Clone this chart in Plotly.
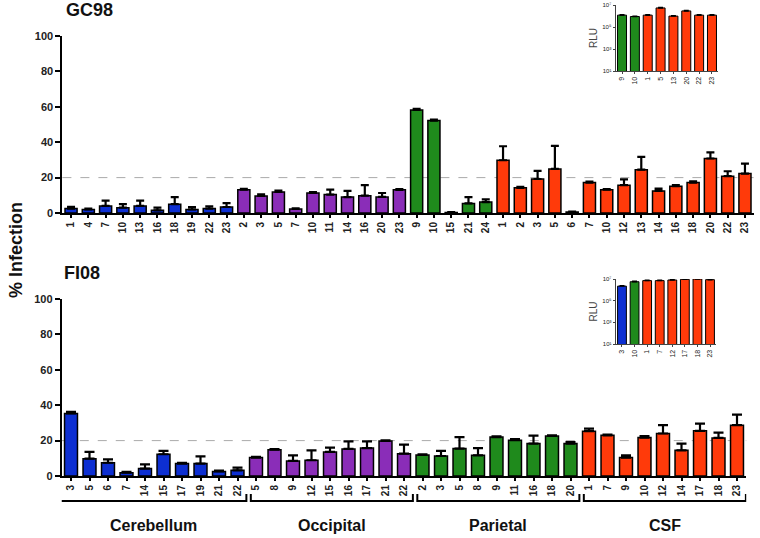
import plotly.graph_objects as go

# ---- GC98 (top panel), % infection, mean and upper SEM ----
gc_cer_lab = ["1", "4", "7", "10", "13", "16", "18", "19", "22", "23"]
gc_cer_val = [2.5, 2.0, 4.0, 3.0, 4.0, 1.5, 5.0, 2.0, 2.5, 3.4]
gc_cer_err = [1.0, 0.5, 3.0, 2.0, 3.0, 1.5, 4.0, 1.4, 1.3, 2.2]

gc_occ_lab = ["2", "3", "5", "7", "10", "11", "14", "16", "20", "23"]
gc_occ_val = [13.2, 9.6, 11.9, 2.3, 11.3, 10.4, 9.0, 9.8, 9.1, 13.1]
gc_occ_err = [0.5, 0.9, 0.7, 0.3, 0.5, 2.8, 3.5, 6.0, 2.2, 0.4]

gc_par_lab = ["9", "10", "15", "21", "24"]
gc_par_val = [58.2, 52.2, 0.3, 5.4, 6.2]
gc_par_err = [0.6, 0.6, 0.2, 3.6, 1.5]

gc_csf_lab = ["1", "2", "3", "5", "6", "7", "10", "12", "13", "14", "16", "18", "20", "22", "23"]
gc_csf_val = [29.8, 14.2, 19.2, 24.9, 0.5, 17.2, 13.2, 15.7, 24.5, 12.5, 15.1, 17.2, 30.8, 20.8, 22.3]
gc_csf_err = [7.9, 0.6, 4.6, 13.0, 0.3, 0.5, 0.3, 3.3, 7.2, 1.3, 0.7, 0.7, 3.4, 2.8, 5.6]

# ---- FI08 (bottom panel) ----
fi_cer_lab = ["3", "5", "6", "7", "14", "15", "17", "19", "21", "22"]
fi_cer_val = [35.3, 9.8, 7.5, 1.9, 4.2, 12.3, 7.0, 7.0, 2.6, 3.2]
fi_cer_err = [1.0, 3.8, 1.9, 0.5, 2.4, 1.9, 0.5, 4.1, 0.5, 1.5]

fi_occ_lab = ["5", "8", "9", "12", "15", "16", "17", "21", "22"]
fi_occ_val = [10.4, 14.9, 8.5, 8.9, 13.6, 15.3, 15.8, 19.8, 12.6]
fi_occ_err = [0.4, 0.3, 3.2, 5.6, 2.4, 4.3, 3.8, 0.4, 5.1]

fi_par_lab = ["2", "3", "5", "8", "9", "11", "16", "18", "20"]
fi_par_val = [11.9, 11.3, 15.5, 11.7, 22.0, 20.2, 18.3, 22.6, 18.3]
fi_par_err = [0.3, 2.9, 6.5, 4.1, 0.4, 0.7, 4.5, 0.3, 0.9]

fi_csf_lab = ["1", "7", "9", "10", "12", "14", "17", "18", "23"]
fi_csf_val = [25.3, 23.0, 10.4, 21.7, 24.0, 14.5, 25.5, 21.5, 28.7]
fi_csf_err = [1.5, 0.4, 1.3, 0.9, 4.7, 3.8, 4.1, 3.0, 6.0]

# ---- RLU insets ----
gc_rlu_lab = ["9", "10", "1", "5", "13", "20", "22", "23"]
gc_rlu_grp = ["Parietal", "Parietal", "CSF", "CSF", "CSF", "CSF", "CSF", "CSF"]
gc_rlu_val = [1.2e6, 9.0e5, 1.2e6, 5.4e6, 9.8e5, 2.9e6, 1.2e6, 1.2e6]

fi_rlu_lab = ["3", "10", "1", "7", "12", "17", "18", "23"]
fi_rlu_grp = ["Cerebellum", "Parietal", "CSF", "CSF", "CSF", "CSF", "CSF", "CSF"]
fi_rlu_val = [2.2e6, 5.6e6, 7.1e6, 7.1e6, 8.1e6, 9.3e6, 1.0e7, 8.7e6]

rlu_ticks = [1e1, 1e3, 1e5, 1e7]
rlu_tick_text = ["10¹", "10³", "10⁵", "10⁷"]

regions = ["Cerebellum", "Occipital", "Parietal", "CSF"]
COLORS = {"Cerebellum": "#0d2fd2", "Occipital": "#8a2db8", "Parietal": "#1f8a1c", "CSF": "#ff3a0a"}
FONT = "Arial, Liberation Sans, sans-serif"
W, H = 760, 538


def px(x):
    return x / W


def py(y):
    return 1 - y / H


fig = go.Figure()


def add_panel(groups, xa, ya, capw):
    pos = 0
    tickvals, ticktext, spans = [], [], []
    for name, labels, vals, errs in groups:
        xs = list(range(pos, pos + len(labels)))
        fig.add_trace(go.Bar(
            x=xs, y=vals, xaxis=xa, yaxis=ya, width=0.7, showlegend=False,
            marker=dict(color=COLORS[name], line=dict(color="black", width=1.5)),
            error_y=dict(type="data", symmetric=False, array=errs, arrayminus=[0] * len(errs),
                         color="black", thickness=2.2, width=capw),
        ))
        tickvals += xs
        ticktext += labels
        spans.append((xs[0], xs[-1]))
        pos += len(labels)
    return tickvals, ticktext, spans, pos


top_tv, top_tt, _, top_n = add_panel([
    ("Cerebellum", gc_cer_lab, gc_cer_val, gc_cer_err),
    ("Occipital", gc_occ_lab, gc_occ_val, gc_occ_err),
    ("Parietal", gc_par_lab, gc_par_val, gc_par_err),
    ("CSF", gc_csf_lab, gc_csf_val, gc_csf_err),
], "x", "y", 4)

bot_tv, bot_tt, bot_spans, bot_n = add_panel([
    ("Cerebellum", fi_cer_lab, fi_cer_val, fi_cer_err),
    ("Occipital", fi_occ_lab, fi_occ_val, fi_occ_err),
    ("Parietal", fi_par_lab, fi_par_val, fi_par_err),
    ("CSF", fi_csf_lab, fi_csf_val, fi_csf_err),
], "x2", "y2", 5)


def add_inset(labels, grps, vals, xa, ya):
    xs = list(range(len(labels)))
    fig.add_trace(go.Bar(
        x=xs, y=vals, xaxis=xa, yaxis=ya, width=0.7, showlegend=False,
        marker=dict(color=[COLORS[g] for g in grps], line=dict(color="black", width=1)),
        error_y=dict(type="data", symmetric=False, array=[v * 0.08 for v in vals],
                     arrayminus=[0] * len(vals), color="black", thickness=1.5, width=2.5),
    ))
    return xs


ins1_x = add_inset(gc_rlu_lab, gc_rlu_grp, gc_rlu_val, "x3", "y3")
ins2_x = add_inset(fi_rlu_lab, fi_rlu_grp, fi_rlu_val, "x4", "y4")

main_x = dict(showline=True, linecolor="black", linewidth=2, ticks="outside", ticklen=3,
              tickwidth=1.5, tickcolor="black", tickangle=-90, showgrid=False, zeroline=False,
              tickfont=dict(family=FONT, size=10, color="#222", weight="bold"), automargin=False)
main_y = dict(range=[0, 100], tickvals=[0, 20, 40, 60, 80, 100], showline=True, linecolor="black",
              linewidth=2, ticks="outside", ticklen=5, tickwidth=2, tickcolor="black",
              showgrid=False, zeroline=False,
              tickfont=dict(family=FONT, size=11, color="#222", weight="bold"), automargin=False)
ins_x = dict(showline=True, linecolor="#444", linewidth=1, ticks="outside", ticklen=2,
             tickcolor="#444", tickangle=-90, showgrid=False, zeroline=False,
             tickfont=dict(family=FONT, size=7, color="#222"), automargin=False)
ins_y = dict(type="log", range=[1, 7], tickvals=rlu_ticks, ticktext=rlu_tick_text,
             showline=True, linecolor="#444", linewidth=1, ticks="outside", ticklen=2,
             tickcolor="#444", showgrid=False, zeroline=False,
             tickfont=dict(family=FONT, size=6, color="#222"), automargin=False,
             title=dict(text="RLU", font=dict(family=FONT, size=10, color="#444"), standoff=2))

fig.update_layout(
    width=W, height=H, margin=dict(l=0, r=0, t=0, b=0),
    plot_bgcolor="white", paper_bgcolor="white",
    xaxis=dict(main_x, domain=[px(62.4), px(753.6)], range=[-0.5, top_n - 0.5],
               tickvals=top_tv, ticktext=top_tt, anchor="y"),
    yaxis=dict(main_y, domain=[py(213), py(36)], anchor="x"),
    xaxis2=dict(main_x, domain=[px(61.75), px(746.25)], range=[-0.5, bot_n - 0.5],
                tickvals=bot_tv, ticktext=bot_tt, anchor="y2"),
    yaxis2=dict(main_y, domain=[py(476), py(299)], anchor="x2"),
    xaxis3=dict(ins_x, domain=[px(615.6), px(718.4)], range=[-0.5, 7.5],
                tickvals=ins1_x, ticktext=gc_rlu_lab, anchor="y3"),
    yaxis3=dict(ins_y, domain=[py(71), py(5)], anchor="x3"),
    xaxis4=dict(ins_x, domain=[px(615.7), px(716.3)], range=[-0.5, 7.5],
                tickvals=ins2_x, ticktext=fi_rlu_lab, anchor="y4"),
    yaxis4=dict(ins_y, domain=[py(344), py(279)], anchor="x4"),
)

# 20% threshold lines
for yref, xref in (("y", "x domain"), ("y2", "x2 domain")):
    fig.add_shape(type="line", xref=xref, yref=yref, x0=0, x1=1, y0=20, y1=20, layer="below",
                  line=dict(color="#aaa", width=1, dash="dash"))

# region brackets under the bottom panel
for i, (name, (a, b)) in enumerate(zip(regions, bot_spans)):
    x0 = a - (0.6 if i == 0 else 0.28)
    x1 = b + 0.48
    fig.add_shape(type="path", xref="x2", yref="paper",
                  path=f"M {x0},{py(494)} L {x0},{py(501)} L {x1},{py(501)} L {x1},{py(494)}",
                  line=dict(color="black", width=2))
    fig.add_annotation(x=(x0 + x1) / 2, y=py(525), xref="x2", yref="paper", text=name,
                       yanchor="middle", showarrow=False,
                       font=dict(family=FONT, size=16, color="#111", weight="bold"))

fig.add_annotation(x=px(64), y=py(10), xref="paper", yref="paper", text="GC98", xanchor="left",
                   yanchor="middle", showarrow=False,
                   font=dict(family=FONT, size=18, color="#111", weight="bold"))
fig.add_annotation(x=px(62), y=py(273), xref="paper", yref="paper", text="FI08", xanchor="left",
                   yanchor="middle", showarrow=False,
                   font=dict(family=FONT, size=18, color="#111", weight="bold"))
fig.add_annotation(x=px(16), y=py(250), xref="paper", yref="paper", text="% Infection",
                   textangle=-90, xanchor="center", yanchor="middle",
                   showarrow=False, font=dict(family=FONT, size=18, color="#111", weight="bold"))

# the page body has a default 8px margin; drop it so the figure fills the window
fig.write_html("out.html", config={"displayModeBar": False},
               post_script="document.body.style.margin='0px';")
